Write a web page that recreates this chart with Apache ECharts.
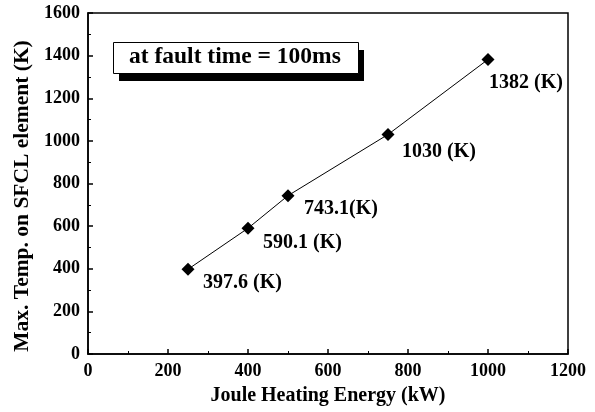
<!DOCTYPE html>
<html><head><meta charset="utf-8">
<script src="https://cdn.jsdelivr.net/npm/echarts@6/dist/echarts.min.js"></script>
<style>html,body{margin:0;padding:0;background:#fff}#c{width:595px;height:412px}</style>
</head><body><div id="c"></div>
<script>
const energy = [250, 400, 500, 750, 1000];
const maxTemp = [397.6, 590.1, 743.1, 1030, 1382];
const pointLabels = ['397.6 (K)', '590.1 (K)', '743.1(K)', '1030 (K)', '1382 (K)'];
const labelOffsets = [[15, 14], [15, 15], [16, 13], [14, 17], [1, 23]];
const xTicks = [0, 200, 400, 600, 800, 1000, 1200];
const yTicks = [0, 200, 400, 600, 800, 1000, 1200, 1400, 1600];
const xTitle = 'Joule Heating Energy (kW)';
const yTitle = 'Max. Temp. on SFCL element (K)';
const noteText = 'at fault time = 100ms';
const F = '"Liberation Serif", "Times New Roman", serif';

const data = energy.map((x, i) => ({
  value: [x, maxTemp[i]],
  label: { show: true, formatter: pointLabels[i], position: 'inside', align: 'left', verticalAlign: 'middle', offset: labelOffsets[i] }
}));

const chart = echarts.init(document.getElementById('c'), null, { renderer: 'canvas' });
const axisCommon = {
  axisLine: { show: true, lineStyle: { color: '#000', width: 1.5 } },
  axisTick: { show: true, inside: true, length: 5, lineStyle: { color: '#000', width: 1.5 } },
  minorTick: { show: true, splitNumber: 2, length: 3, lineStyle: { color: '#000', width: 1 } },
  splitLine: { show: false },
  axisLabel: { color: '#000', fontFamily: F, fontWeight: 'bold', fontSize: 18, margin: 8, formatter: v => String(v) },
};
chart.setOption({
  animation: false,
  backgroundColor: '#fff',
  grid: { left: 88, right: 27, top: 13, bottom: 58, show: true, borderColor: '#000', borderWidth: 1.5 },
  xAxis: Object.assign({}, axisCommon, {
    type: 'value', min: xTicks[0], max: xTicks[xTicks.length - 1], interval: 200,
    name: xTitle, nameLocation: 'middle', nameGap: 32,
    nameTextStyle: { color: '#000', fontFamily: F, fontWeight: 'bold', fontSize: 20 }
  }),
  yAxis: Object.assign({}, axisCommon, {
    type: 'value', min: yTicks[0], max: yTicks[yTicks.length - 1], interval: 200
  }),
  series: [{
    type: 'line', data: data,
    symbol: 'diamond', symbolSize: 13,
    itemStyle: { color: '#000' },
    lineStyle: { color: '#000', width: 1 },
    label: { color: '#000', fontFamily: F, fontWeight: 'bold', fontSize: 20 }
  }],
  graphic: [
    { type: 'text', x: 22, y: 196, rotation: Math.PI / 2, style: { text: yTitle, fill: '#000', font: 'bold 21.5px ' + F, textAlign: 'center', textVerticalAlign: 'middle' }, z: 12 },
    { type: 'rect', left: 119, top: 50, shape: { width: 245, height: 31 }, style: { fill: '#000' }, z: 10 },
    { type: 'rect', left: 113, top: 42, shape: { width: 245, height: 31 }, style: { fill: '#fff', stroke: '#000', lineWidth: 1 }, z: 11 },
    { type: 'text', left: 129, top: 45, style: { text: noteText, fill: '#000', font: 'bold 23.5px ' + F }, z: 12 }
  ]
});
</script></body></html>
